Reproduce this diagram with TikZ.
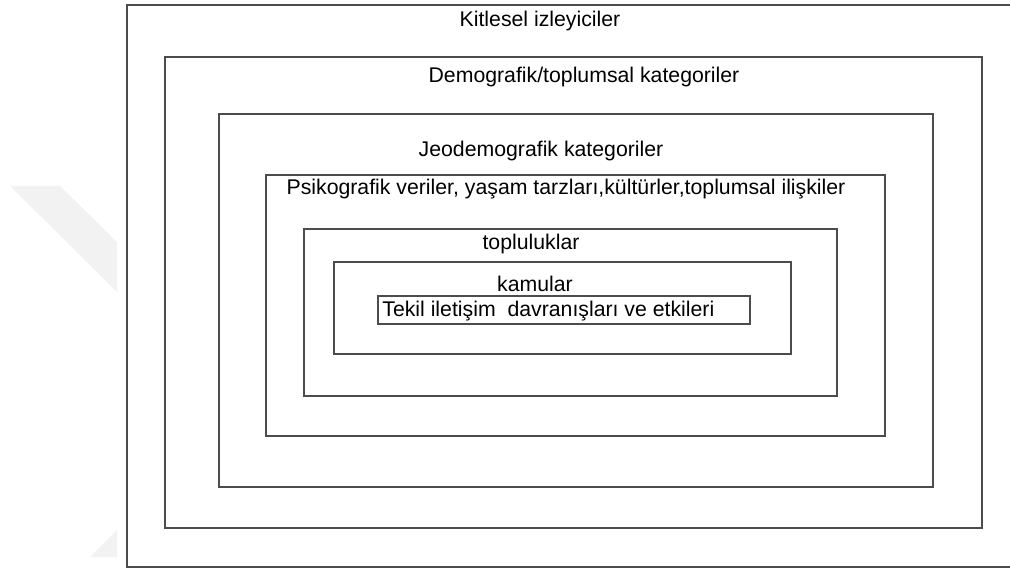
\documentclass[tikz,border=0pt]{standalone}
\usepackage{fontspec}
\setmainfont{Liberation Sans}

\begin{document}
\begin{tikzpicture}[x=0.02cm, y=-0.02cm, frame/.style={draw=black!70, line width=0.8pt}, lbl/.style={inner sep=0pt, anchor=base, font=\fontsize{12.1}{14}\selectfont}, wmark/.style={fill=black!5, draw=none}]
  {
  \useasboundingbox (0,0) rectangle (1010,570);
  \fill[wmark] (10,186) -- (60,186) -- (117,242) -- (117,292) -- cycle;
  \fill[wmark] (117,530) -- (117,557) -- (90,557) -- cycle;

  \draw[frame] (1010,5) -| (127,567) -- (1010,567);
  \draw[frame] (165,57) rectangle (982,528);
  \draw[frame] (219,114) rectangle (933,487);
  \draw[frame] (266,175) rectangle (885,436);
  \draw[frame] (304,229) rectangle (837,396);
  \draw[frame] (334,262) rectangle (791,354);
  \draw[frame] (378,296) rectangle (750,324);

  \node[lbl] (kitle) at (540,27) {Kitlesel izleyiciler};
  \node[lbl] (demog) at (584,83) {Demografik/toplumsal kategoriler};
  \node[lbl] (jeod) at (541,157) {Jeodemografik kategoriler};
  \node[lbl] (psiko) at (566,195) {Psikografik veriler, yaşam tarzları,kültürler,toplumsal ilişkiler};
  \node[lbl] (toplu) at (531,250) {topluluklar};
  \node[lbl] (kamu) at (535,292) {kamular};
  \node[lbl, anchor=base west] (tekil) at (382,317) {Tekil iletişim\ \ davranışları ve etkileri};
}
\end{tikzpicture}
\end{document}
